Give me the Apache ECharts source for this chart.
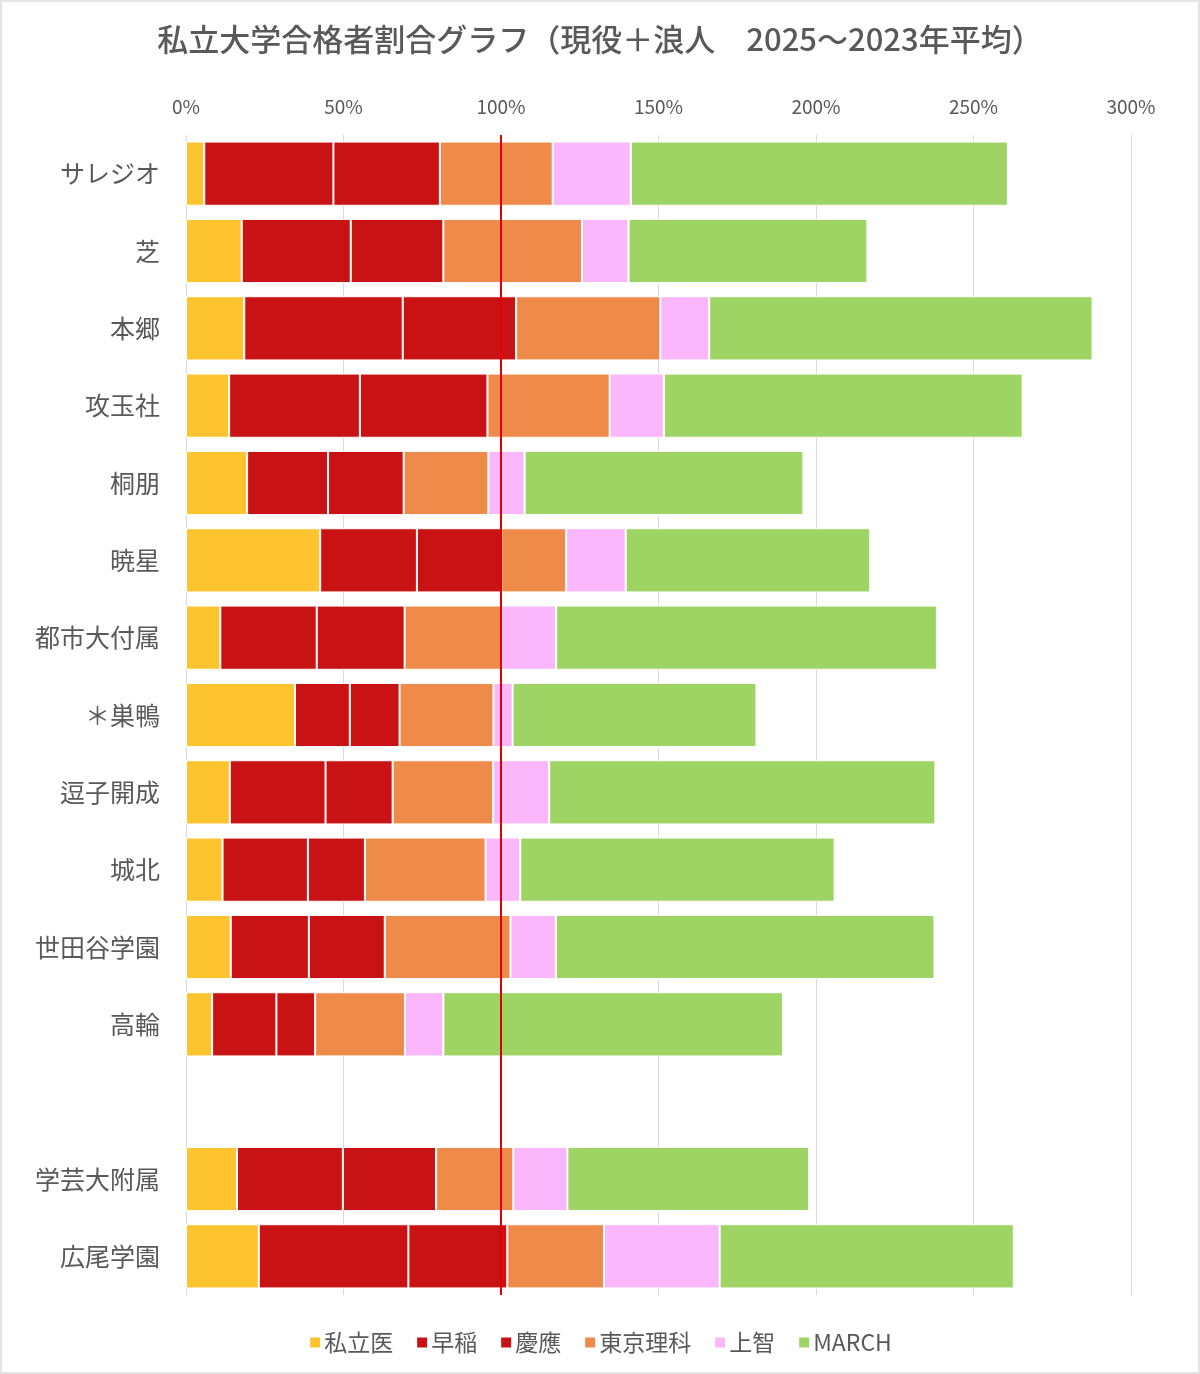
<!DOCTYPE html>
<html>
<head>
<meta charset="utf-8">
<script src="https://cdn.jsdelivr.net/npm/echarts@6/dist/echarts.min.js"></script>
<style>
  html, body { margin: 0; padding: 0; background: #e4e4e4; }
  #chart { position: absolute; left: 2px; top: 2px; width: 1196px; height: 1370px; background: #ffffff; }
</style>
</head>
<body>
<div id="chart"></div>
<script>
const categories = ['サレジオ','芝','本郷','攻玉社','桐朋','暁星','都市大付属','＊巣鴨','逗子開成','城北','世田谷学園','高輪','','学芸大附属','広尾学園'];
const seriesNames = ['私立医','早稲','慶應','東京理科','上智','MARCH'];
const shiritsui = [5.8, 17.7, 18.5, 13.7, 19.4, 42.6, 10.9, 34.6, 13.9, 11.6, 14.2, 8.3, null, 16.2, 23.1];
const waseda    = [41.0, 34.6, 50.3, 41.5, 25.7, 30.7, 30.6, 17.4, 30.4, 27.1, 24.8, 20.4, null, 33.6, 47.5];
const keio      = [33.8, 29.4, 36.0, 40.5, 24.0, 26.8, 27.9, 15.8, 21.3, 18.1, 24.1, 12.3, null, 29.6, 31.4];
const tokyoRika = [35.8, 44.0, 45.8, 38.8, 26.9, 20.6, 30.7, 29.8, 31.9, 38.3, 39.9, 28.5, null, 24.5, 30.7];
const jochi     = [24.8, 14.8, 15.5, 17.2, 11.5, 18.9, 17.4, 6.1, 17.8, 11.0, 14.4, 12.2, null, 17.2, 36.7];
const march     = [119.7, 75.8, 121.7, 113.9, 88.5, 77.6, 120.9, 77.4, 122.6, 99.8, 120.2, 107.8, null, 76.7, 93.4];
const xTicks = [0, 50, 100, 150, 200, 250, 300];
const referenceLine = 100;

const colors = ['#FEC430', '#C81213', '#C81213', '#EE8B4B', '#FBB7FB', '#9ED464'];
const dataSets = [shiritsui, waseda, keio, tokyoRika, jochi, march];
const textColor = '#595959';
const font = '"Noto Sans CJK JP", "Noto Sans", sans-serif';

const series = seriesNames.map((name, i) => ({
  name: name,
  type: 'bar',
  stack: 'total',
  barCategoryGap: '17%',
  data: dataSets[i],
  itemStyle: { color: colors[i], borderColor: '#ffffff', borderWidth: 1 },
  emphasis: { disabled: true }
}));

series.push({
  name: 'ref',
  type: 'line',
  data: [],
  z: 10,
  silent: true,
  markLine: {
    symbol: 'none',
    silent: true,
    label: { show: false },
    lineStyle: { color: '#E00000', width: 2, type: 'solid' },
    data: [{ xAxis: referenceLine }]
  }
});

const chart = echarts.init(document.getElementById('chart'), null, { renderer: 'canvas' });
chart.setOption({
  animation: false,
  textStyle: { fontFamily: font },
  title: {
    text: '私立大学合格者割合グラフ（現役＋浪人　2025～2023年平均）',
    left: 'center',
    top: 17,
    textStyle: { fontFamily: font, fontSize: 31, fontWeight: 500, color: textColor }
  },
  legend: {
    data: seriesNames,
    bottom: 13,
    left: 'center',
    itemWidth: 12,
    itemHeight: 12,
    itemGap: 22,
    icon: 'rect',
    textStyle: { fontFamily: font, fontSize: 23, color: textColor, padding: [0, 0, 0, -2] }
  },
  grid: { left: 184, right: 67, top: 133, height: 1160, containLabel: false },
  xAxis: {
    type: 'value',
    position: 'top',
    min: xTicks[0],
    max: xTicks[xTicks.length - 1],
    interval: xTicks[1] - xTicks[0],
    axisLine: { show: false },
    axisTick: { show: false },
    axisLabel: { formatter: '{value}%', fontSize: 19, color: textColor, margin: 19, fontFamily: font },
    splitLine: { show: true, lineStyle: { color: '#d9d9d9', width: 1 } }
  },
  yAxis: {
    type: 'category',
    data: categories,
    inverse: true,
    axisLine: { show: false },
    axisTick: { show: false },
    axisLabel: { fontSize: 25, color: textColor, margin: 26, fontFamily: font },
    splitLine: { show: false }
  },
  series: series
});
</script>
</body>
</html>
